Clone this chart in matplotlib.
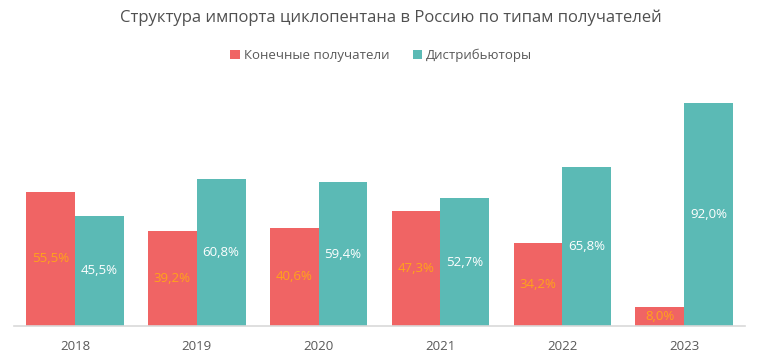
import matplotlib.pyplot as plt
import numpy as np

plt.rcParams['font.family'] = ['Open Sans', 'DejaVu Sans']

years = ['2018', '2019', '2020', '2021', '2022', '2023']
end_users = [55.5, 39.2, 40.6, 47.3, 34.2, 8.0]
distributors = [45.5, 60.8, 59.4, 52.7, 65.8, 92.0]
series_names = ['Конечные получатели', 'Дистрибьюторы']

red = '#F06464'
teal = '#5BBAB5'
grey = '#595959'

fig = plt.figure(figsize=(7.58, 3.63), dpi=100)
ax = fig.add_axes([0.0185, 0.1019, 0.9645, 0.6777])

x = np.arange(len(years))
w = 0.4
b1 = ax.bar(x - w / 2, end_users, w, color=red, label=series_names[0])
b2 = ax.bar(x + w / 2, distributors, w, color=teal, label=series_names[1])

def fmt(v):
    return '{:.1f}%'.format(v).replace('.', ',')

for rect, v in zip(b1, end_users):
    ax.text(rect.get_x() + rect.get_width() / 2, v / 2, fmt(v),
            ha='center', va='center', color='#FFA31A', fontsize=9.5)
for rect, v in zip(b2, distributors):
    ax.text(rect.get_x() + rect.get_width() / 2, v / 2, fmt(v),
            ha='center', va='center', color='white', fontsize=9.5)

ax.set_xlim(-0.5, len(years) - 0.5)
ax.set_ylim(0, 101.6)
ax.set_xticks(x)
ax.set_xticklabels(years, fontsize=9.5, color=grey)
ax.tick_params(axis='x', length=0, pad=10)
ax.set_yticks([])
for s in ['top', 'right', 'left']:
    ax.spines[s].set_visible(False)
ax.spines['bottom'].set_color('#D9D9D9')
ax.spines['bottom'].set_linewidth(1.2)

fig.text(0.516, 0.95, 'Структура импорта циклопентана в Россию по типам получателей',
         ha='center', va='center', fontsize=12, color='#505050')
fig.legend(handles=[b1, b2], loc='center', bbox_to_anchor=(0.503, 0.848), ncol=2,
           frameon=False, fontsize=9.5, labelcolor=grey, handlelength=0.7,
           handleheight=0.7, handletextpad=0.3, columnspacing=1.8)

fig.savefig('out.png', dpi=100)
